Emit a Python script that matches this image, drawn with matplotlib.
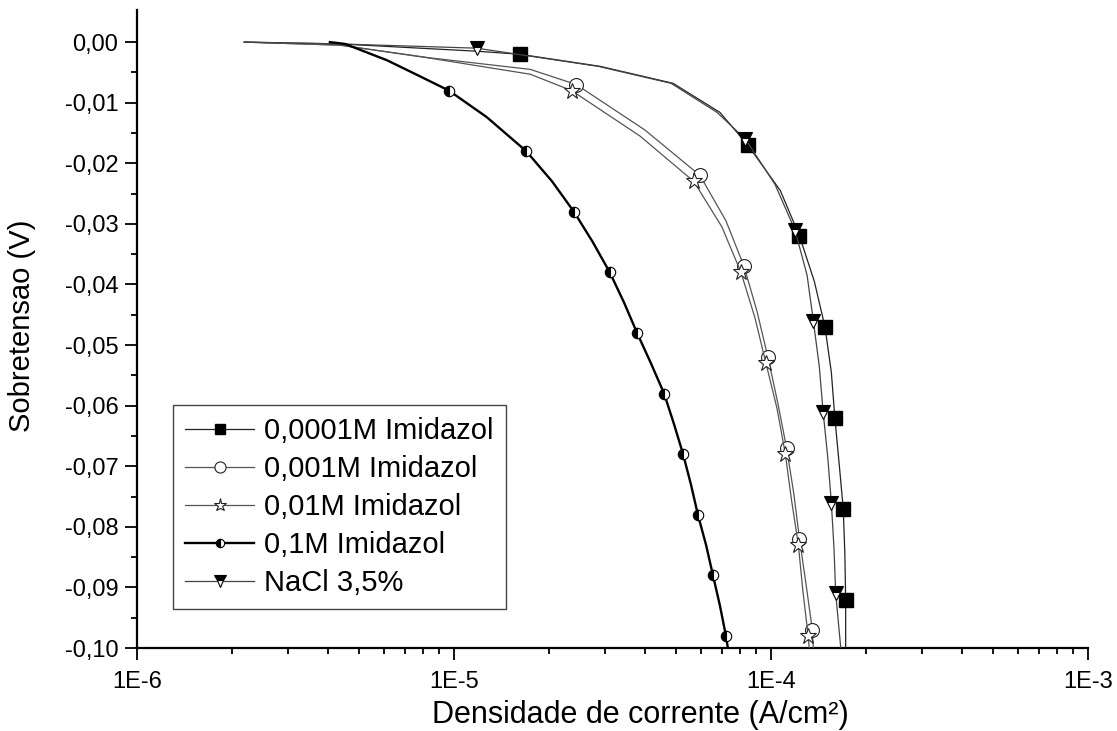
import matplotlib
matplotlib.use("Agg")
import matplotlib.pyplot as plt
from matplotlib.ticker import FixedLocator, FuncFormatter, LogLocator, NullFormatter

plt.rcParams["font.family"] = ["Liberation Sans", "DejaVu Sans"]

# Overpotential (V) vs current density (A/cm2), one curve per solution
v_sq = [0.000, -0.0003, -0.0015, -0.002, -0.004, -0.0068, -0.0116, -0.017, -0.0245, -0.032,
        -0.0395, -0.047, -0.0545, -0.062, -0.0695, -0.077, -0.0845, -0.092, -0.100]
j_sq = [2.18e-6, 4.37e-6, 1.18e-5, 1.61e-5, 2.89e-5, 4.91e-5, 6.90e-5, 8.45e-5, 1.07e-4, 1.23e-4,
        1.37e-4, 1.48e-4, 1.55e-4, 1.59e-4, 1.64e-4, 1.69e-4, 1.71e-4, 1.72e-4, 1.72e-4]
mk_sq = [3, 7, 9, 11, 13, 15, 17]

v_ci = [0.000, -0.0005, -0.0026, -0.0045, -0.007, -0.0145, -0.022, -0.0295, -0.037, -0.0445,
        -0.052, -0.0595, -0.067, -0.0745, -0.082, -0.0895, -0.097, -0.100]
j_ci = [2.18e-6, 4.37e-6, 8.40e-6, 1.74e-5, 2.43e-5, 4.00e-5, 5.97e-5, 7.21e-5, 8.22e-5, 9.04e-5,
        9.78e-5, 1.05e-4, 1.12e-4, 1.18e-4, 1.23e-4, 1.29e-4, 1.35e-4, 1.36e-4]
mk_ci = [4, 6, 8, 10, 12, 14, 16]

v_st = [0.000, -0.0005, -0.0026, -0.0053, -0.008, -0.0155, -0.023, -0.0305, -0.038, -0.0455,
        -0.053, -0.0605, -0.068, -0.0755, -0.083, -0.0905, -0.098, -0.100]
j_st = [2.18e-6, 4.37e-6, 8.28e-6, 1.74e-5, 2.35e-5, 3.86e-5, 5.71e-5, 7.00e-5, 8.04e-5, 8.90e-5,
        9.64e-5, 1.045e-4, 1.11e-4, 1.16e-4, 1.22e-4, 1.26e-4, 1.31e-4, 1.32e-4]
mk_st = [4, 6, 8, 10, 12, 14, 16]

v_hc = [0.000, -0.0003, -0.003, -0.0054, -0.008, -0.0124, -0.018, -0.023, -0.028, -0.033,
        -0.038, -0.043, -0.048, -0.053, -0.058, -0.063, -0.068, -0.073, -0.078, -0.083,
        -0.088, -0.093, -0.098, -0.100]
j_hc = [4.06e-6, 4.53e-6, 6.15e-6, 7.64e-6, 9.64e-6, 1.27e-5, 1.69e-5, 2.04e-5, 2.39e-5, 2.74e-5,
        3.10e-5, 3.44e-5, 3.78e-5, 4.18e-5, 4.60e-5, 4.94e-5, 5.28e-5, 5.59e-5, 5.88e-5, 6.24e-5,
        6.56e-5, 6.90e-5, 7.21e-5, 7.31e-5]
mk_hc = [4, 6, 8, 10, 12, 14, 16, 18, 20, 22]

v_na = [0.000, -0.0003, -0.001, -0.004, -0.0068, -0.0116, -0.016, -0.0235, -0.031, -0.0385,
        -0.046, -0.0535, -0.061, -0.0685, -0.076, -0.0835, -0.091, -0.100]
j_na = [2.18e-6, 4.37e-6, 1.18e-5, 2.85e-5, 4.84e-5, 6.76e-5, 8.30e-5, 1.03e-4, 1.19e-4, 1.30e-4,
        1.36e-4, 1.42e-4, 1.46e-4, 1.51e-4, 1.55e-4, 1.58e-4, 1.60e-4, 1.66e-4]
mk_na = [2, 6, 8, 10, 12, 14, 16]

labels = ["0,0001M Imidazol", "0,001M Imidazol", "0,01M Imidazol", "0,1M Imidazol", "NaCl 3,5%"]
x_ticks = [1e-6, 1e-5, 1e-4, 1e-3]
x_ticklabels = ["1E-6", "1E-5", "1E-4", "1E-3"]
y_ticks = [0.00, -0.01, -0.02, -0.03, -0.04, -0.05, -0.06, -0.07, -0.08, -0.09, -0.10]


def comma_fmt(v, pos):
    if abs(v) < 1e-9:
        v = 0.0
    return f"{v:.2f}".replace(".", ",")


fig = plt.figure(figsize=(11.17, 7.31), dpi=100)
ax = fig.add_axes([137 / 1117, 1 - 648 / 731, (1088 - 137) / 1117, (648 - 10) / 731])

ax.plot(j_sq, v_sq, color="#222222", lw=0.9, marker="s", ms=9.5, mfc="black", mec="black",
        markevery=mk_sq, label=labels[0], zorder=3)
ax.plot(j_ci, v_ci, color="#555555", lw=0.9, marker="o", ms=10, mfc="white", mec="#222222",
        mew=0.8, markevery=mk_ci, label=labels[1], zorder=3)
ax.plot(j_st, v_st, color="#555555", lw=0.9, marker="*", ms=12, mfc="white", mec="#222222",
        mew=0.8, markevery=mk_st, label=labels[2], zorder=3)
ax.plot(j_hc, v_hc, color="black", lw=1.7, marker="o", ms=7.5, fillstyle="left", mfc="black",
        mfcalt="white", mec="black", mew=0.8, markevery=mk_hc, label=labels[3], zorder=4)
ax.plot(j_na, v_na, color="#444444", lw=0.9, marker="v", ms=10, fillstyle="top", mfc="black",
        mfcalt="white", mec="black", mew=0.8, markevery=mk_na, label=labels[4], zorder=3)

ax.set_xscale("log")
ax.set_xlim(1e-6, 1e-3)
ax.set_ylim(-0.10, 0.0053)

ax.xaxis.set_major_locator(FixedLocator(x_ticks))
ax.xaxis.set_major_formatter(FuncFormatter(lambda v, pos: x_ticklabels[x_ticks.index(v)] if v in x_ticks else ""))
ax.xaxis.set_minor_locator(LogLocator(base=10, subs=range(2, 10)))
ax.xaxis.set_minor_formatter(NullFormatter())

ax.yaxis.set_major_locator(FixedLocator(y_ticks))
ax.yaxis.set_minor_locator(FixedLocator([t - 0.005 for t in y_ticks[:-1]]))
ax.yaxis.set_major_formatter(FuncFormatter(comma_fmt))

for side in ("top", "right"):
    ax.spines[side].set_visible(False)
for side in ("left", "bottom"):
    ax.spines[side].set_linewidth(1.6)

ax.tick_params(which="major", direction="out", length=8.5, width=1.3, labelsize=17)
ax.tick_params(axis="x", which="major", pad=8)
ax.tick_params(axis="y", which="major", pad=5)
ax.tick_params(which="minor", direction="out", length=4.5, width=1.3)

ax.set_xlabel("Densidade de corrente (A/cm²)", fontsize=22)
ax.set_ylabel("Sobretensao (V)", fontsize=21)
ax.xaxis.set_label_coords(0.529, -0.082)
ax.yaxis.set_label_coords(-0.106, 0.505)

leg = ax.legend(loc="upper left", bbox_to_anchor=(173 / 1117, 1 - 405 / 731),
                bbox_transform=fig.transFigure, borderaxespad=0, fontsize=21,
                handlelength=2.35, handletextpad=0.35, labelspacing=0.34, borderpad=0.42,
                markerscale=0.8, fancybox=False, framealpha=1)
leg.get_frame().set_edgecolor("#444444")
leg.get_frame().set_linewidth(1.0)

fig.savefig("out.png", dpi=100)
